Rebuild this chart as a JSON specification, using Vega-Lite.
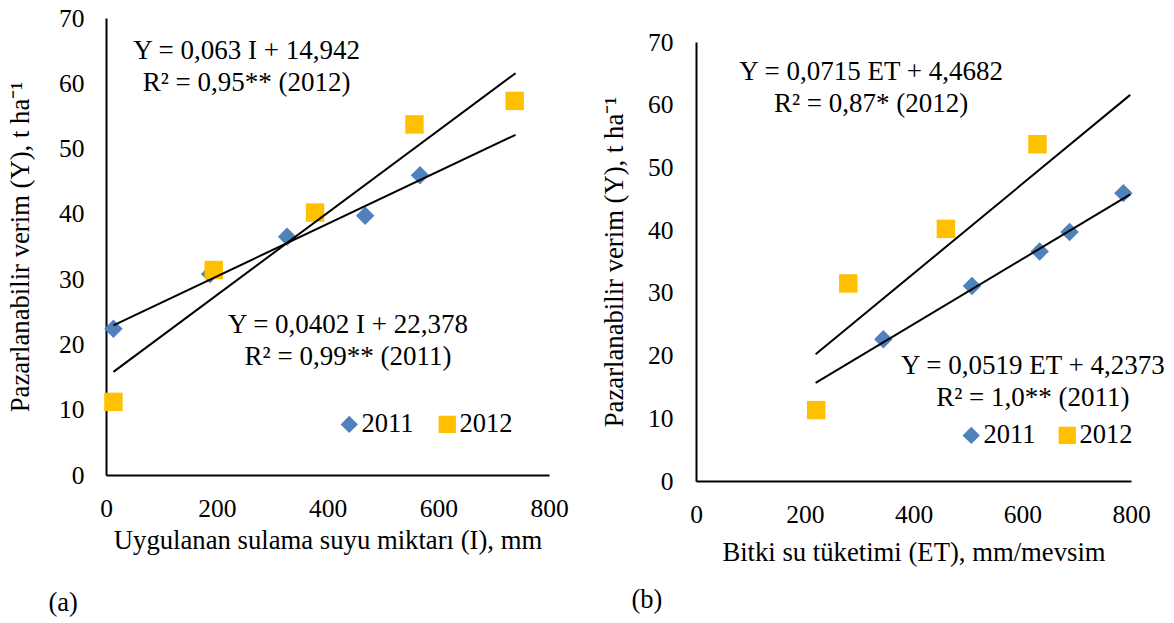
{
  "$schema": "https://vega.github.io/schema/vega-lite/v6.json",
  "padding": {"left": 7, "top": 6, "right": 0, "bottom": 0},
  "background": "white",
  "datasets": {
    "ptsA": [
      {"year": "2011", "x": 13.4, "y": 22.4},
      {"year": "2011", "x": 188, "y": 30.8},
      {"year": "2011", "x": 327, "y": 36.5},
      {"year": "2011", "x": 468, "y": 39.7},
      {"year": "2011", "x": 567, "y": 45.9},
      {"year": "2012", "x": 13.4, "y": 11.2},
      {"year": "2012", "x": 194.5, "y": 31.4},
      {"year": "2012", "x": 377.5, "y": 40.2},
      {"year": "2012", "x": 557, "y": 53.7},
      {"year": "2012", "x": 738, "y": 57.3}
    ],
    "lineA": [
      {"year": "2011", "x": 13.4, "y": 22.92},
      {"year": "2011", "x": 739.6, "y": 52.11},
      {"year": "2012", "x": 13.4, "y": 15.79},
      {"year": "2012", "x": 739.6, "y": 61.54}
    ],
    "ptsB": [
      {"year": "2011", "x": 344.5, "y": 22.6},
      {"year": "2011", "x": 507.5, "y": 31.1},
      {"year": "2011", "x": 632, "y": 36.6},
      {"year": "2011", "x": 687, "y": 39.7},
      {"year": "2011", "x": 786, "y": 45.9},
      {"year": "2012", "x": 221, "y": 11.3},
      {"year": "2012", "x": 280, "y": 31.5},
      {"year": "2012", "x": 459.6, "y": 40.2},
      {"year": "2012", "x": 628, "y": 53.7}
    ],
    "lineB": [
      {"year": "2011", "x": 220, "y": 15.65},
      {"year": "2011", "x": 798.6, "y": 45.69},
      {"year": "2012", "x": 220, "y": 20.2},
      {"year": "2012", "x": 798.6, "y": 61.57}
    ]
  },
  "hconcat": [
    {
      "width": 443,
      "height": 457,
      "title": {"text": "(a)", "orient": "bottom", "anchor": "start", "frame": "bounds", "dx": 41, "offset": 36},
      "layer": [
        {
          "data": {"name": "ptsA"},
          "mark": {"type": "point", "filled": true, "opacity": 1, "size": 340},
          "encoding": {
            "x": {"field": "x", "type": "quantitative", "scale": {"domain": [0, 800], "nice": false}, "axis": {"title": "Uygulanan sulama suyu miktarı (I), mm", "values": [0, 200, 400, 600, 800], "titlePadding": 6}},
            "y": {"field": "y", "type": "quantitative", "scale": {"domain": [0, 70], "nice": false}, "axis": {"title": "Pazarlanabilir verim (Y), t ha⁻¹", "values": [0, 10, 20, 30, 40, 50, 60, 70], "titlePadding": 24}},
            "color": {"field": "year", "type": "nominal", "scale": {"domain": ["2011", "2012"], "range": ["#4F81BD", "#FFC000"]}, "legend": {"orient": "none", "legendX": 230, "legendY": 393, "direction": "horizontal", "title": null, "labelFontSize": 26.5, "symbolSize": 300, "labelFont": "Liberation Serif", "labelColor": "black", "columnPadding": 20, "labelOffset": -1, "padding": 0, "symbolStrokeWidth": 0}},
            "shape": {"field": "year", "type": "nominal", "scale": {"domain": ["2011", "2012"], "range": ["diamond", "square"]}, "legend": {"orient": "none", "legendX": 230, "legendY": 393, "direction": "horizontal", "title": null, "labelFontSize": 26.5, "symbolSize": 300, "labelFont": "Liberation Serif", "labelColor": "black", "columnPadding": 20, "labelOffset": -1, "padding": 0, "symbolStrokeWidth": 0}}
          }
        },
        {
          "data": {"name": "lineA"},
          "mark": {"type": "line", "color": "black", "strokeWidth": 2},
          "encoding": {
            "x": {"field": "x", "type": "quantitative"},
            "y": {"field": "y", "type": "quantitative"},
            "detail": {"field": "year"}
          }
        },
        {
          "data": {"values": [{}]},
          "mark": {"type": "text", "fontSize": 27, "lineHeight": 32, "align": "center", "baseline": "middle", "font": "Liberation Serif", "color": "black", "text": ["Y = 0,063 I + 14,942", "R² = 0,95** (2012)"]},
          "encoding": {"x": {"datum": 254}, "y": {"datum": 64.9}}
        },
        {
          "data": {"values": [{}]},
          "mark": {"type": "text", "fontSize": 27, "lineHeight": 32, "align": "center", "baseline": "middle", "font": "Liberation Serif", "color": "black", "text": ["Y = 0,0402 I + 22,378", "R² = 0,99** (2011)"]},
          "encoding": {"x": {"datum": 437}, "y": {"datum": 22.95}}
        }
      ]
    },
    {
      "spacing": 0,
      "vconcat": [
        {
          "width": 1,
          "height": 12,
          "data": {"values": []},
          "mark": "point"
        },
        {
          "width": 435,
          "height": 439,
          "title": {"text": "(b)", "orient": "bottom", "anchor": "start", "frame": "bounds", "dx": 30, "offset": 21},
          "layer": [
            {
              "data": {"name": "ptsB"},
              "mark": {"type": "point", "filled": true, "opacity": 1, "size": 340},
              "encoding": {
                "x": {"field": "x", "type": "quantitative", "scale": {"domain": [0, 800], "nice": false}, "axis": {"title": "Bitki su tüketimi (ET), mm/mevsim", "values": [0, 200, 400, 600, 800], "titlePadding": 12}},
                "y": {"field": "y", "type": "quantitative", "scale": {"domain": [0, 70], "nice": false}, "axis": {"title": "Pazarlanabilir verim (Y), t ha⁻¹", "values": [0, 10, 20, 30, 40, 50, 60, 70], "titlePadding": 19, "labelPadding": 23}},
                "color": {"field": "year", "type": "nominal", "scale": {"domain": ["2011", "2012"], "range": ["#4F81BD", "#FFC000"]}, "legend": {"orient": "none", "legendX": 262, "legendY": 380, "direction": "horizontal", "title": null, "labelFontSize": 26.5, "symbolSize": 300, "labelFont": "Liberation Serif", "labelColor": "black", "columnPadding": 18, "labelOffset": -1, "padding": 0, "symbolStrokeWidth": 0}},
                "shape": {"field": "year", "type": "nominal", "scale": {"domain": ["2011", "2012"], "range": ["diamond", "square"]}, "legend": {"orient": "none", "legendX": 262, "legendY": 380, "direction": "horizontal", "title": null, "labelFontSize": 26.5, "symbolSize": 300, "labelFont": "Liberation Serif", "labelColor": "black", "columnPadding": 18, "labelOffset": -1, "padding": 0, "symbolStrokeWidth": 0}}
              }
            },
            {
              "data": {"name": "lineB"},
              "mark": {"type": "line", "color": "black", "strokeWidth": 2},
              "encoding": {
                "x": {"field": "x", "type": "quantitative"},
                "y": {"field": "y", "type": "quantitative"},
                "detail": {"field": "year"}
              }
            },
            {
              "data": {"values": [{}]},
              "mark": {"type": "text", "fontSize": 27, "lineHeight": 32, "align": "center", "baseline": "middle", "font": "Liberation Serif", "color": "black", "text": ["Y = 0,0715 ET + 4,4682", "R² = 0,87* (2012)"]},
              "encoding": {"x": {"datum": 322}, "y": {"datum": 65.2}}
            },
            {
              "data": {"values": [{}]},
              "mark": {"type": "text", "fontSize": 27, "lineHeight": 32, "align": "center", "baseline": "middle", "font": "Liberation Serif", "color": "black", "text": ["Y = 0,0519 ET + 4,2373", "R² = 1,0** (2011)"]},
              "encoding": {"x": {"datum": 619.5}, "y": {"datum": 18.3}}
            }
          ]
        }
      ],
      "resolve": {"legend": {"color": "independent", "shape": "independent"}, "scale": {"x": "independent", "y": "independent"}}
    }
  ],
  "spacing": 32,
  "resolve": {"legend": {"color": "independent", "shape": "independent"}, "scale": {"x": "independent", "y": "independent"}},
  "config": {
    "view": {"stroke": null},
    "font": "Liberation Serif",
    "axis": {
      "domainColor": "black",
      "domainWidth": 2,
      "ticks": false,
      "tickSize": 0,
      "grid": false,
      "labelFont": "Liberation Serif",
      "labelFontSize": 25.5,
      "labelColor": "black",
      "titleFont": "Liberation Serif",
      "titleFontSize": 26.7,
      "titleFontWeight": "normal",
      "titleColor": "black",
      "labelFlush": false,
      "labelOverlap": false
    },
    "axisX": {"labelPadding": 21},
    "axisY": {"labelPadding": 22},
    "title": {"font": "Liberation Serif", "fontSize": 26.5, "fontWeight": "normal", "color": "black"}
  }
}
